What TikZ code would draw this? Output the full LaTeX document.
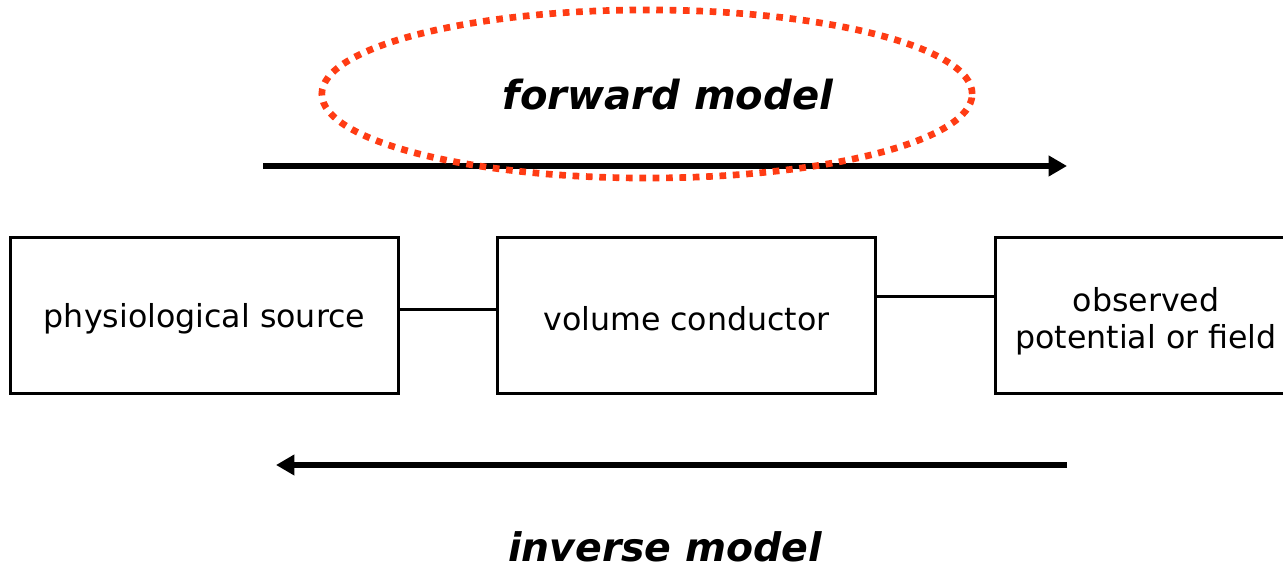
\documentclass[tikz,border=0pt]{standalone}
\usepackage{fontspec}
\setmainfont{DejaVu Sans}
\usetikzlibrary{arrows.meta,shapes.geometric}
\definecolor{ringred}{RGB}{255,60,20}
\begin{document}
\begin{tikzpicture}[x=0.01cm,y=-0.01cm]
    \tikzset{box/.style={draw,line width=0.85pt,minimum height=1.55cm,inner sep=0pt},
             boxtext/.style={align=center,inner sep=0pt,font=\fontsize{9}{10.5}\selectfont},
             flow/.style={line width=1.6pt,-{Triangle[length=5.2pt,width=5.6pt]}},
             title/.style={font=\bfseries\itshape\fontsize{11.4}{14}\selectfont}}
    \useasboundingbox (0,0) rectangle (1283,568);
    % boxes
    \node [box,minimum width=3.87cm] (source) at (204.5,315.5) {};
    \node [box,minimum width=3.77cm] (conductor) at (686.5,315.5) {};
    \node [box,minimum width=3.00cm] (observed) at (1146,315.5) {};
    \node [boxtext] (source text) at ([yshift=-0.03cm]source.center) {physiological source};
    \node [boxtext] (conductor text) at ([yshift=-0.03cm]conductor.center) {volume conductor};
    \node [boxtext] (observed text) at ([yshift=-0.055cm]observed.center) {observed\\potential or field};
    \draw [line width=0.85pt] ([yshift=0.055cm]source.east) -- ([yshift=0.055cm]conductor.west);
    \draw [line width=0.85pt] ([yshift=0.185cm]conductor.east) -- ([yshift=0.185cm]observed.west);
    % forward model
    \coordinate (fwdstart) at (263,166);
    \coordinate (fwdend) at (1067,166);
    \draw [flow] (fwdstart) -- (fwdend);
    \node [draw=ringred,ellipse,line width=1.9pt,dash pattern=on 1.9pt off 1.9pt,minimum width=6.5cm,minimum height=1.68cm] (ring) at (647,94) {};
    \node [title] (forward) at (668,95) {forward model};
    % inverse model
    \coordinate (invstart) at (1067,465);
    \coordinate (invend) at (276,465);
    \draw [flow] (invstart) -- (invend);
    \node [title,font=\bfseries\itshape\fontsize{11.2}{14}\selectfont] (inverse) at (665,547) {inverse model};
\end{tikzpicture}
\end{document}
